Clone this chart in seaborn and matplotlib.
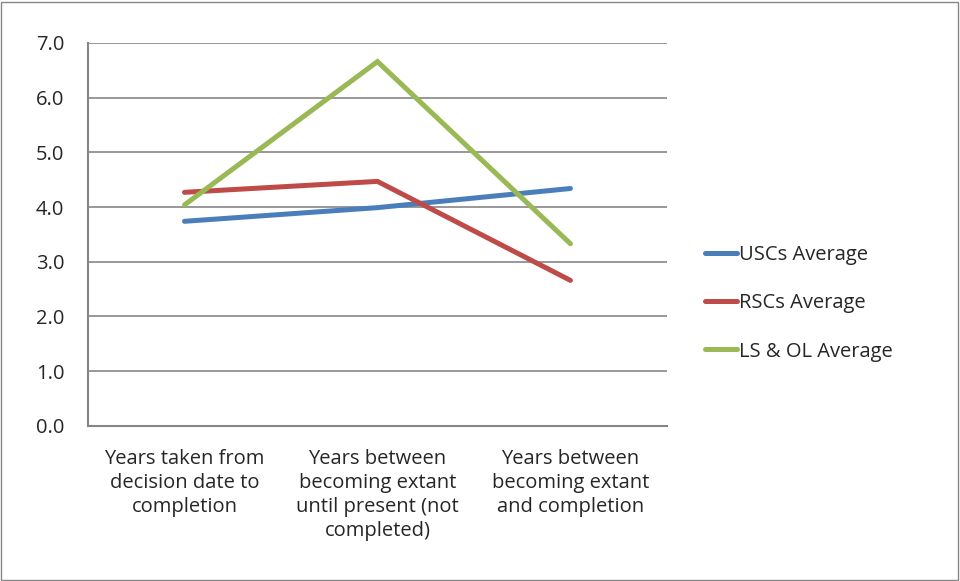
import numpy as np
import pandas as pd
import matplotlib
matplotlib.use("Agg")
import matplotlib.pyplot as plt
from matplotlib.patches import Rectangle
import seaborn as sns

# ── Data ──────────────────────────────────────────────────────────────────────
categories = [
    "Years taken from\ndecision date to\ncompletion",
    "Years between\nbecoming extant\nuntil present (not\ncompleted)",
    "Years between\nbecoming extant\nand completion",
]
series_names = ["USCs Average", "RSCs Average", "LS & OL Average"]
uscs = [3.74, 3.99, 4.34]
rscs = [4.27, 4.47, 2.66]
ls_ol = [4.04, 6.66, 3.33]
y_ticks = [0, 1, 2, 3, 4, 5, 6, 7]

PALETTE = {"USCs Average": "#4A7EBB", "RSCs Average": "#BE4B48",
           "LS & OL Average": "#98B954"}

df = pd.DataFrame({
    "pos": list(range(3)) * 3,
    "value": uscs + rscs + ls_ol,
    "series": [s for s in series_names for _ in range(3)],
})

# ── Plot ──────────────────────────────────────────────────────────────────────
sns.set_style("white")
plt.rcParams["font.family"] = ["Open Sans", "DejaVu Sans"]

fig = plt.figure(figsize=(9.6, 5.81), dpi=100)
ax = fig.add_axes([0.0917, 0.267, 0.603, 0.659])

sns.lineplot(data=df, x="pos", y="value", hue="series", palette=PALETTE,
             hue_order=series_names, linewidth=3.6, ax=ax, sort=False)
for ln in ax.lines:
    ln.set_solid_capstyle("round")
    ln.set_solid_joinstyle("miter")

ax.set_xlim(-0.5, 2.5)
ax.set_ylim(0, 7)
ax.set_yticks(y_ticks)
ax.set_yticklabels([f"{v:.1f}" for v in y_ticks], fontsize=14.5)
ax.yaxis.grid(True, color="#868686", linewidth=1.2)
ax.set_axisbelow(True)

ax.set_xticks(range(3))
ax.set_xticklabels(categories, fontsize=14.5, linespacing=1.25)
ax.set_xticks([-0.5, 0.5, 1.5, 2.5], minor=True)
ax.tick_params(axis="x", which="major", length=0, pad=17)
ax.tick_params(axis="x", which="minor", length=6, color="#868686", width=1.2)
ax.tick_params(axis="y", length=6, color="#868686", width=1.2, pad=11)
ax.set_xlabel("")
ax.set_ylabel("")

for side in ["top", "right"]:
    ax.spines[side].set_visible(False)
for side in ["left", "bottom"]:
    ax.spines[side].set_color("#868686")
    ax.spines[side].set_linewidth(1.5)

ax.legend(loc="center left", bbox_to_anchor=(1.035, 0.32), frameon=False,
          fontsize=14.5, handlelength=1.55, handletextpad=0.1, labelspacing=1.4)

fig.patches.append(Rectangle((0.001, 0.002), 0.997, 0.995, transform=fig.transFigure,
                             fill=False, edgecolor="#868686", linewidth=1))

fig.savefig("out.png", dpi=100)
